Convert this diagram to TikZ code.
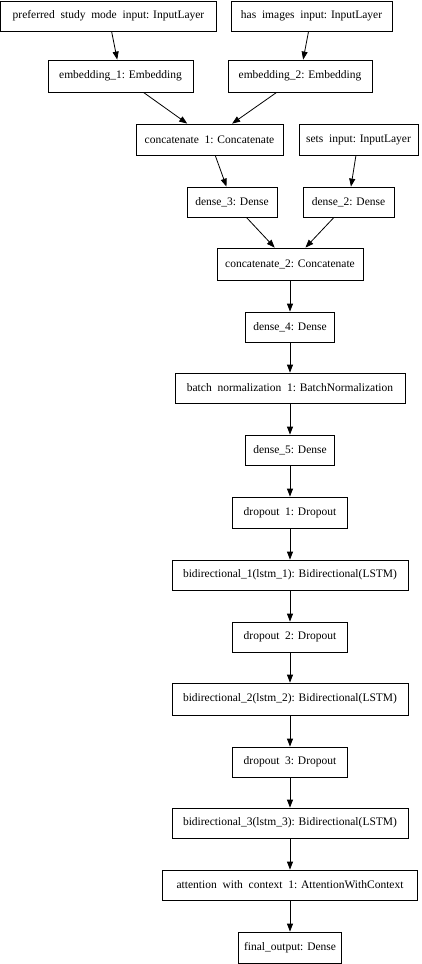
\documentclass[tikz,border=0pt]{standalone}
\usepackage{fontspec}
\setmainfont{Liberation Serif}
\usetikzlibrary{arrows.meta}
\newcommand{\ugap}{\hspace{0.5em}}
\begin{document}
\begin{tikzpicture}[x=1pt,y=-1pt,
  layer/.style={draw, line width=0.8pt, inner sep=0pt, minimum height=30pt,
    font=\fontsize{11.5}{13}\selectfont, fill=white},
  conn/.style={-{Triangle[length=8pt,width=6pt]}, line width=0.8pt}]
\useasboundingbox (0,0) rectangle (422,964);
\node[layer, minimum width=216pt] (pref) at (108.5,16) {preferred\ugap study\ugap mode\ugap input: InputLayer};
\node[layer, minimum width=161pt] (img) at (311.5,16) {has\ugap images\ugap input: InputLayer};
\node[layer, minimum width=145pt, minimum height=32pt] (emb1) at (120.5,76) {embedding\_1: Embedding};
\node[layer, minimum width=144pt, minimum height=32pt] (emb2) at (300,76) {embedding\_2: Embedding};
\node[layer, minimum width=147pt, minimum height=31pt] (cat1) at (209.5,139.5) {concatenate\ugap 1: Concatenate};
\node[layer, minimum width=119pt, minimum height=31pt] (sets) at (358.5,139.5) {sets\ugap input: InputLayer};
\node[layer, minimum width=90pt] (d3) at (232,202) {dense\_3: Dense};
\node[layer, minimum width=91pt] (d2) at (348.5,202) {dense\_2: Dense};
\node[layer, minimum width=146pt, minimum height=32pt] (cat2) at (290,264) {concatenate\_2: Concatenate};
\node[layer, minimum width=89pt] (d4) at (290,327) {dense\_4: Dense};
\node[layer, minimum width=230pt] (bn) at (290,388) {batch\ugap normalization\ugap 1: BatchNormalization};
\node[layer, minimum width=89pt] (d5) at (290,450) {dense\_5: Dense};
\node[layer, minimum width=115pt, minimum height=31pt] (do1) at (290,512.5) {dropout\ugap 1: Dropout};
\node[layer, minimum width=236pt] (bi1) at (290,575) {bidirectional\_1(lstm\_1): Bidirectional(LSTM)};
\node[layer, minimum width=115pt] (do2) at (290,637) {dropout\ugap 2: Dropout};
\node[layer, minimum width=236pt, minimum height=32pt] (bi2) at (290,699) {bidirectional\_2(lstm\_2): Bidirectional(LSTM)};
\node[layer, minimum width=115pt] (do3) at (290,762) {dropout\ugap 3: Dropout};
\node[layer, minimum width=236pt] (bi3) at (290,823) {bidirectional\_3(lstm\_3): Bidirectional(LSTM)};
\node[layer, minimum width=255pt] (att) at (290,885) {attention\ugap with\ugap context\ugap 1: AttentionWithContext};
\node[layer, minimum width=103pt, minimum height=31pt] (out) at (290,947.5) {final\_output: Dense};
\draw[conn] (pref) -- (emb1);
\draw[conn] (img) -- (emb2);
\draw[conn] (emb1) -- (cat1);
\draw[conn] (emb2) -- (cat1);
\draw[conn] (cat1) -- (d3);
\draw[conn] (sets) -- (d2);
\draw[conn] (d3) -- (cat2);
\draw[conn] (d2) -- (cat2);
\draw[conn] (cat2) -- (d4);
\draw[conn] (d4) -- (bn);
\draw[conn] (bn) -- (d5);
\draw[conn] (d5) -- (do1);
\draw[conn] (do1) -- (bi1);
\draw[conn] (bi1) -- (do2);
\draw[conn] (do2) -- (bi2);
\draw[conn] (bi2) -- (do3);
\draw[conn] (do3) -- (bi3);
\draw[conn] (bi3) -- (att);
\draw[conn] (att) -- (out);
\end{tikzpicture}
\end{document}
